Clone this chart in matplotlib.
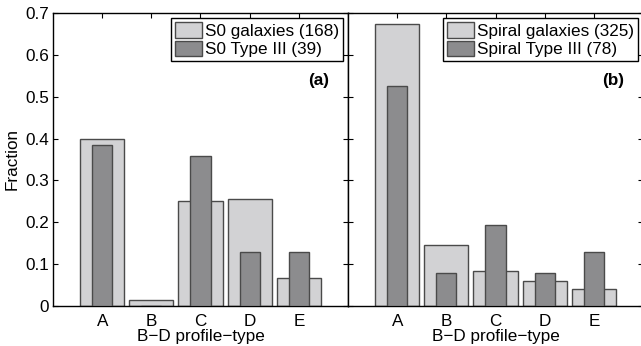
import numpy as np
import matplotlib
matplotlib.use("Agg")
import matplotlib.pyplot as plt
from matplotlib.patches import Patch

plt.rcParams["font.family"] = ["Liberation Sans", "DejaVu Sans"]

types = ["A", "B", "C", "D", "E"]

# fraction of each B-D profile type
s0_all = [0.399, 0.012, 0.250, 0.256, 0.065]
s0_type3 = [0.385, 0.0, 0.359, 0.128, 0.128]
sp_all = [0.674, 0.145, 0.083, 0.058, 0.040]
sp_type3 = [0.526, 0.077, 0.192, 0.077, 0.128]

labels_a = ["S0 galaxies (168)", "S0 Type III (39)"]
labels_b = ["Spiral galaxies (325)", "Spiral Type III (78)"]

light = "#d2d2d4"
dark = "#8c8c8e"
edge = "#4a4a4a"
fs = 12.3

fig = plt.figure(figsize=(6.41, 3.46), dpi=100)
W, H = 641, 346
ax_a = fig.add_axes([53 / W, (H - 305.5) / H, 295 / W, 292.2 / H])
ax_b = fig.add_axes([348 / W, (H - 305.5) / H, 295 / W, 292.2 / H])

x = np.arange(1, len(types) + 1)

for ax, full, sub, labs, tag in [(ax_a, s0_all, s0_type3, labels_a, "(a)"),
                                 (ax_b, sp_all, sp_type3, labels_b, "(b)")]:
    ax.bar(x, full, width=0.9, color=light, edgecolor=edge, linewidth=1.0, zorder=2)
    ax.bar(x, sub, width=0.41, color=dark, edgecolor=edge, linewidth=1.0, zorder=3)
    ax.set_xlim(0, 6)
    ax.set_ylim(0, 0.7)
    ax.set_xticks(x)
    ax.set_xticklabels(types)
    ax.set_yticks(np.arange(0, 0.71, 0.1))
    ax.tick_params(direction="in", length=3.5, width=0.8, top=True, right=True,
                   labelsize=fs)
    ax.tick_params(axis="x", pad=6)
    ax.tick_params(axis="y", pad=3)
    for s in ax.spines.values():
        s.set_linewidth(1.0)
    ax.set_xlabel("B\u2212D profile\u2212type", fontsize=fs, labelpad=0)
    handles = [Patch(facecolor=light, edgecolor=edge, linewidth=1.0),
               Patch(facecolor=dark, edgecolor=edge, linewidth=1.0)]
    leg = ax.legend(handles, labs, loc="upper right", fontsize=fs,
                    handlelength=1.6, handleheight=1.05, handletextpad=0.2,
                    labelspacing=0.12, borderpad=0.2, borderaxespad=0.3,
                    fancybox=False, framealpha=1, edgecolor="black")
    leg.get_frame().set_linewidth(1.0)
    ax.text(0.935, 0.77, tag, transform=ax.transAxes, ha="right", va="center",
            fontsize=fs, fontweight="bold")

ax_a.yaxis.set_major_formatter(plt.FuncFormatter(lambda v, p: "0" if v == 0 else f"{v:.1f}"))
ax_a.set_ylabel("Fraction", fontsize=fs, labelpad=4)
ax_b.tick_params(labelleft=False)

fig.savefig("out.png", dpi=100)
